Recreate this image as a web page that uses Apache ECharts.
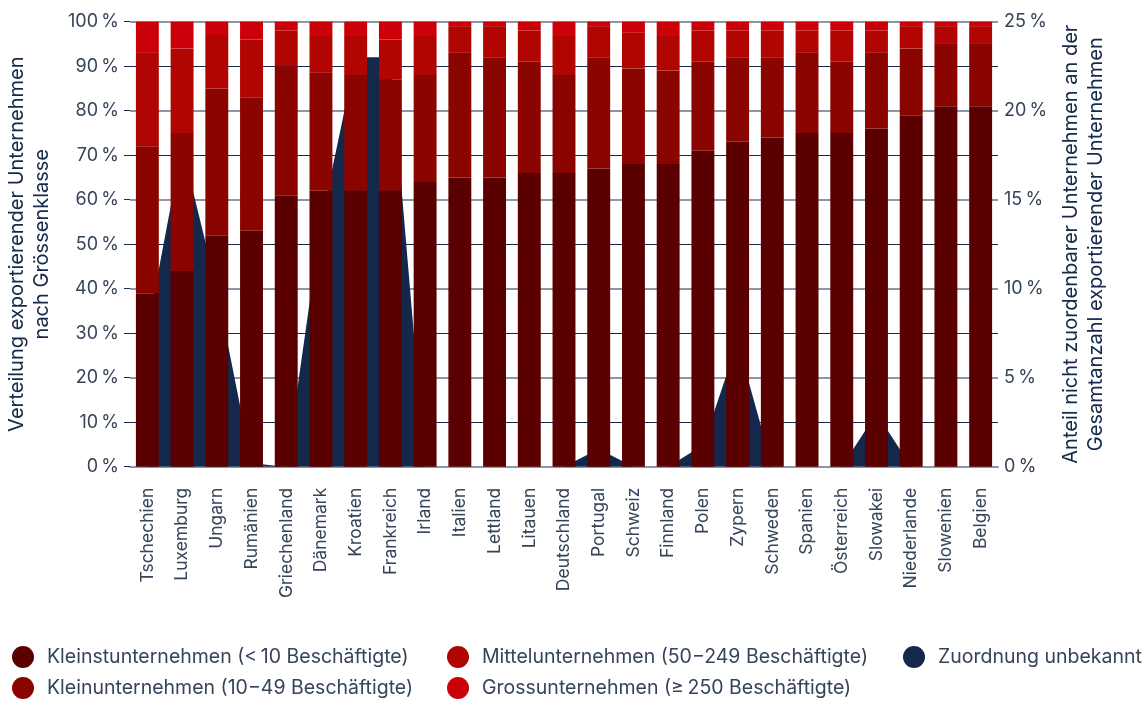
<!DOCTYPE html>
<html>
<head>
<meta charset="utf-8">
<script src="https://cdn.jsdelivr.net/npm/echarts@6/dist/echarts.min.js"></script>
<style>
  html, body { margin: 0; padding: 0; background: #ffffff; }
  #chart { width: 1146px; height: 702px; }
</style>
</head>
<body>
<div id="chart"></div>
<script>
// Countries, in display order
const categories = ['Tschechien', 'Luxemburg', 'Ungarn', 'Rumänien', 'Griechenland', 'Dänemark', 'Kroatien', 'Frankreich', 'Irland', 'Italien', 'Lettland', 'Litauen', 'Deutschland', 'Portugal', 'Schweiz', 'Finnland', 'Polen', 'Zypern', 'Schweden', 'Spanien', 'Österreich', 'Slowakei', 'Niederlande', 'Slowenien', 'Belgien'];

// Share of exporting firms by size class (%), left axis
const kleinst = [39, 44, 52, 53, 61, 62, 62, 62, 64, 65, 65, 66, 66, 67, 68, 68, 71, 73, 74, 75, 75, 76, 79, 81, 81];
const klein   = [33, 31, 33, 30, 29, 26.5, 26, 25, 24, 28, 27, 25, 22, 25, 21.5, 21, 20, 19, 18, 18, 16, 17, 15, 14, 14];
const mittel  = [21, 19, 12, 13, 8, 8.5, 9, 9, 9, 6, 7, 7, 9, 7, 8, 8, 7, 6, 6, 5, 7, 5, 5, 4, 4];
const gross   = [7, 6, 3, 4, 2, 3, 3, 4, 3, 1, 1, 2, 3, 1, 2.5, 3, 2, 2, 2, 2, 2, 2, 1, 1, 1];

// Share of firms that cannot be assigned to a size class (%), right axis
const unbekannt = [7.7, 18, 10, 0.2, 0, 13.7, 23, 23, 0, 0, 0, 0, 0, 1.0, 0, 0, 1.2, 7.0, 0, 0, 0, 3.0, 0, 0, 0];

// Axis tick values
const leftTicks = { min: 0, max: 100, interval: 10 };
const rightTicks = { min: 0, max: 25, interval: 5 };

const seriesNames = {
  kleinst: 'Kleinstunternehmen (<\u202f10 Beschäftigte)',
  klein: 'Kleinunternehmen (10\u221249 Beschäftigte)',
  mittel: 'Mittelunternehmen (50\u2212249 Beschäftigte)',
  gross: 'Grossunternehmen (\u2265\u202f250 Beschäftigte)',
  unbekannt: 'Zuordnung unbekannt'
};

const colors = {
  kleinst: '#5b0000',
  klein: '#8b0500',
  mittel: '#b00500',
  gross: '#cc0008',
  unbekannt: '#13284b'
};

const FONT = 'Inter, "Noto Sans", sans-serif';
const labelColor = '#36445a';
const titleColor = '#16294a';

const chart = echarts.init(document.getElementById('chart'), null, { renderer: 'canvas' });

const pct = v => v + '\u202f%';

const legendBase = {
  orient: 'vertical',
  top: 646,
  padding: 0,
  itemWidth: 22,
  itemHeight: 22,
  itemGap: 9,
  icon: 'circle',
  selectedMode: false,
  textStyle: { fontFamily: FONT, fontSize: 19.5, color: labelColor, padding: [0, 0, 0, 8] }
};

const barSeries = (key) => ({
  name: seriesNames[key],
  type: 'bar',
  stack: 'size',
  yAxisIndex: 0,
  barWidth: '66%',
  z: 3,
  itemStyle: { color: colors[key] },
  data: ({ kleinst, klein, mittel, gross })[key]
});

chart.setOption({
  animation: false,
  grid: { left: 130, right: 148, top: 21.7, height: 445, containLabel: false, outerBoundsMode: 'none' },
  legend: [
    Object.assign({}, legendBase, { left: 12, data: [seriesNames.kleinst, seriesNames.klein] }),
    Object.assign({}, legendBase, { left: 447, data: [seriesNames.mittel, seriesNames.gross] }),
    Object.assign({}, legendBase, { left: 903, data: [seriesNames.unbekannt] })
  ],
  xAxis: {
    type: 'category',
    data: categories,
    boundaryGap: true,
    axisLine: { show: true, lineStyle: { color: '#8d96a7', width: 2 } },
    axisTick: { show: false },
    axisLabel: {
      rotate: 90,
      interval: 0,
      margin: 21,
      fontFamily: FONT,
      fontSize: 17.5,
      color: labelColor
    }
  },
  yAxis: [
    {
      type: 'value',
      min: leftTicks.min,
      max: leftTicks.max,
      interval: leftTicks.interval,
      name: 'Verteilung exportierender Unternehmen\nnach Grössenklasse',
      nameLocation: 'middle',
      nameRotate: 90,
      nameGap: 76,
      nameTextStyle: { fontFamily: FONT, fontSize: 20, color: titleColor, lineHeight: 25 },
      axisLine: { show: false },
      axisTick: { show: true, length: 6, lineStyle: { color: titleColor } },
      axisLabel: {
        formatter: pct,
        margin: 11,
        fontFamily: FONT,
        fontSize: 18,
        color: labelColor
      },
      splitLine: { show: true, lineStyle: { color: '#13284b', width: 1 } }
    },
    {
      type: 'value',
      position: 'right',
      min: rightTicks.min,
      max: rightTicks.max,
      interval: rightTicks.interval,
      name: 'Anteil nicht zuordenbarer Unternehmen an der\nGesamtanzahl exportierender Unternehmen',
      nameLocation: 'middle',
      nameRotate: 90,
      nameGap: 52,
      nameTextStyle: { fontFamily: FONT, fontSize: 20, color: titleColor, lineHeight: 25 },
      axisLine: { show: false },
      axisTick: { show: false },
      axisLabel: {
        formatter: pct,
        margin: 6,
        fontFamily: FONT,
        fontSize: 18,
        color: labelColor
      },
      splitLine: { show: true, lineStyle: { color: '#8d96a7', width: 2 } }
    }
  ],
  series: [
    {
      name: seriesNames.unbekannt,
      type: 'line',
      yAxisIndex: 1,
      z: 1,
      symbol: 'none',
      lineStyle: { width: 0 },
      itemStyle: { color: colors.unbekannt },
      areaStyle: { color: colors.unbekannt, opacity: 1 },
      data: unbekannt
    },
    barSeries('kleinst'),
    barSeries('klein'),
    barSeries('mittel'),
    barSeries('gross')
  ]
});
</script>
</body>
</html>
